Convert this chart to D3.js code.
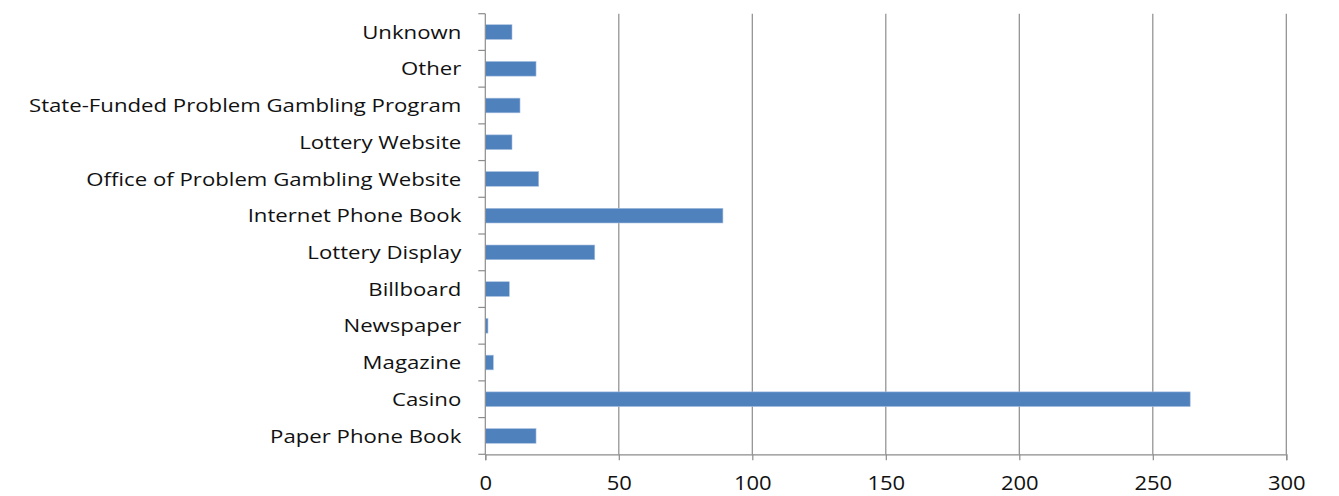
<!DOCTYPE html>
<html><head><meta charset="utf-8">
<script src="https://cdn.jsdelivr.net/npm/d3@7"></script>
<style>
html,body{margin:0;padding:0;background:#fff;}
text{font-family:"Open Sans",sans-serif;fill:#111;}
</style></head>
<body>
<svg id="chart" width="1339" height="496"></svg>
<script>
const categories = ["Unknown","Other","State-Funded Problem Gambling Program","Lottery Website","Office of Problem Gambling Website","Internet Phone Book","Lottery Display","Billboard","Newspaper","Magazine","Casino","Paper Phone Book"];
const values = [10,19,13,10,20,89,41,9,1,3,264,19];
const xTicks = [0,50,100,150,200,250,300];

const svg = d3.select("#chart");
const m = {left:485.3, right:1286.3, top:13.7, bottom:454.3};
const x = d3.scaleLinear().domain([0,300]).range([m.left,m.right]);
const yb = d3.scaleBand().domain(categories).range([m.top,m.bottom]);

// gridlines
svg.append("g").selectAll("line").data(xTicks.slice(1)).join("line")
  .attr("x1",d=>x(d)).attr("x2",d=>x(d)).attr("y1",m.top).attr("y2",m.bottom)
  .attr("stroke","#8c8c8c").attr("stroke-width",1.2);

// bars
svg.append("g").selectAll("rect").data(categories).join("rect")
  .attr("x",x(0)).attr("y",(d)=>yb(d)+yb.bandwidth()*0.3)
  .attr("width",(d,i)=>x(values[i])-x(0)).attr("height",yb.bandwidth()*0.4)
  .attr("fill","#4f81bd").attr("stroke","#a8c0e0").attr("stroke-width",0.6);

// x axis
const xa = svg.append("g").attr("transform",`translate(0,${m.bottom})`)
  .call(d3.axisBottom(x).tickValues(xTicks).tickSize(6).tickPadding(0));
xa.select(".domain").attr("stroke","#8c8c8c").attr("stroke-width",1.2);
xa.selectAll(".tick line").attr("stroke","#8c8c8c").attr("stroke-width",1.2);
xa.selectAll(".tick text").attr("y",null).attr("dy",null)
  .attr("font-size","20px").attr("fill","#111").attr("font-family","'Open Sans',sans-serif")
  .attr("transform","translate(0,36) scale(1.1,1)");

// y axis with ticks at band boundaries
const ya = svg.append("g").attr("transform",`translate(${m.left},0)`);
ya.append("line").attr("x1",0).attr("x2",0).attr("y1",m.top).attr("y2",m.bottom).attr("stroke","#8c8c8c").attr("stroke-width",1.2);
const bounds = categories.map(c=>yb(c)).concat([m.bottom]);
ya.selectAll("line.t").data(bounds).join("line").attr("class","t")
  .attr("x1",-7).attr("x2",0).attr("y1",d=>d).attr("y2",d=>d)
  .attr("stroke","#8c8c8c").attr("stroke-width",1.2);
ya.selectAll("text").data(categories).join("text")
  .attr("transform",d=>`translate(-24,${yb(d)+yb.bandwidth()/2}) scale(1.168,1)`)
  .attr("dy","0.35em")
  .attr("text-anchor","end").attr("font-size","19px").text(d=>d);
</script>
</body></html>
